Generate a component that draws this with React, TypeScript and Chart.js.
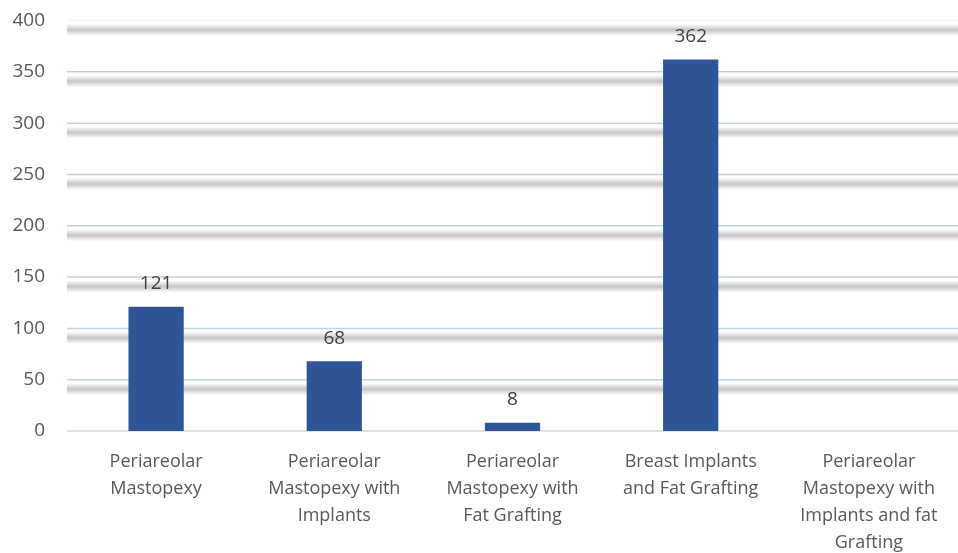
import React, { useEffect, useRef } from "react";
import { Chart, registerables } from "chart.js";

Chart.register(...registerables);

const categories: string[][] = [
  ["Periareolar", "Mastopexy"],
  ["Periareolar", "Mastopexy with", "Implants"],
  ["Periareolar", "Mastopexy with", "Fat Grafting"],
  ["Breast Implants", "and Fat Grafting"],
  ["Periareolar", "Mastopexy with", "Implants and fat", "Grafting"],
];
const values: (number | null)[] = [121, 68, 8, 362, null];
const yTicks: number[] = [0, 50, 100, 150, 200, 250, 300, 350, 400];

const FONT = "'Open Sans', 'Liberation Sans', sans-serif";

const gridPlugin = {
  id: "excelGrid",
  beforeDatasetsDraw(chart: any) {
    const { ctx, chartArea } = chart;
    const y = chart.scales.y;
    const left = chartArea.left;
    const right = chartArea.right;
    ctx.save();
    yTicks.forEach((v) => {
      const py = y.getPixelForValue(v);
      if (v === 0) {
        ctx.strokeStyle = "#D9D9D9";
        ctx.lineWidth = 1.5;
        ctx.beginPath();
        ctx.moveTo(left, py);
        ctx.lineTo(right, py);
        ctx.stroke();
        return;
      }
      const cy = py + 9.5;
      const g = ctx.createLinearGradient(0, cy - 6, 0, cy + 6);
      g.addColorStop(0, "rgba(195,195,195,0)");
      g.addColorStop(0.5, "rgba(195,195,195,0.95)");
      g.addColorStop(1, "rgba(195,195,195,0)");
      ctx.fillStyle = g;
      ctx.fillRect(left, cy - 6, right - left, 12);
      ctx.strokeStyle = v === 400 ? "#F2F4F9" : "#C3D0EA";
      ctx.lineWidth = 1.5;
      ctx.beginPath();
      ctx.moveTo(left, py);
      ctx.lineTo(right, py);
      ctx.stroke();
    });
    ctx.restore();
  },
  afterDatasetsDraw(chart: any) {
    const { ctx } = chart;
    const meta = chart.getDatasetMeta(0);
    ctx.save();
    ctx.fillStyle = "#404040";
    ctx.font = `19px ${FONT}`;
    ctx.textAlign = "center";
    ctx.textBaseline = "middle";
    meta.data.forEach((bar: any, i: number) => {
      const v = values[i];
      if (v === null || v === undefined) return;
      ctx.fillText(String(v), bar.x, bar.y - 23);
    });
    ctx.restore();
  },
};

export default function App() {
  const ref = useRef<HTMLCanvasElement>(null);
  useEffect(() => {
    if (!ref.current) return;
    const chart = new Chart(ref.current, {
      type: "bar",
      data: {
        labels: categories,
        datasets: [
          {
            data: values,
            backgroundColor: "#2F5597",
            categoryPercentage: 1,
            barPercentage: 0.31,
          },
        ],
      },
      plugins: [gridPlugin],
      options: {
        animation: false,
        responsive: false,
        layout: { padding: { top: 20.5, right: 0, left: 0, bottom: 0 } },
        plugins: { legend: { display: false }, tooltip: { enabled: false } },
        scales: {
          x: {
            grid: { display: false, drawTicks: false },
            border: { display: false },
            ticks: {
              color: "#595959",
              font: { family: FONT, size: 18, lineHeight: 1.5 },
              padding: 17,
              maxRotation: 0,
              autoSkip: false,
            },
            afterFit: (s: any) => {
              s.height = 122;
              s.paddingTop = 0;
              s.paddingBottom = 0;
            },
          },
          y: {
            min: 0,
            max: 400,
            grid: { display: false, drawTicks: false },
            border: { display: false },
            ticks: {
              stepSize: 50,
              color: "#595959",
              font: { family: FONT, size: 19 },
              padding: 22,
            },
            afterFit: (s: any) => {
              s.width = 67;
              s.paddingTop = 0;
              s.paddingBottom = 0;
            },
          },
        },
      },
    });
    return () => chart.destroy();
  }, []);
  return (
    <div style={{ position: "fixed", left: 0, top: 0, width: 958, height: 553, background: "#fff" }}>
      <canvas ref={ref} width={958} height={553} />
    </div>
  );
}
